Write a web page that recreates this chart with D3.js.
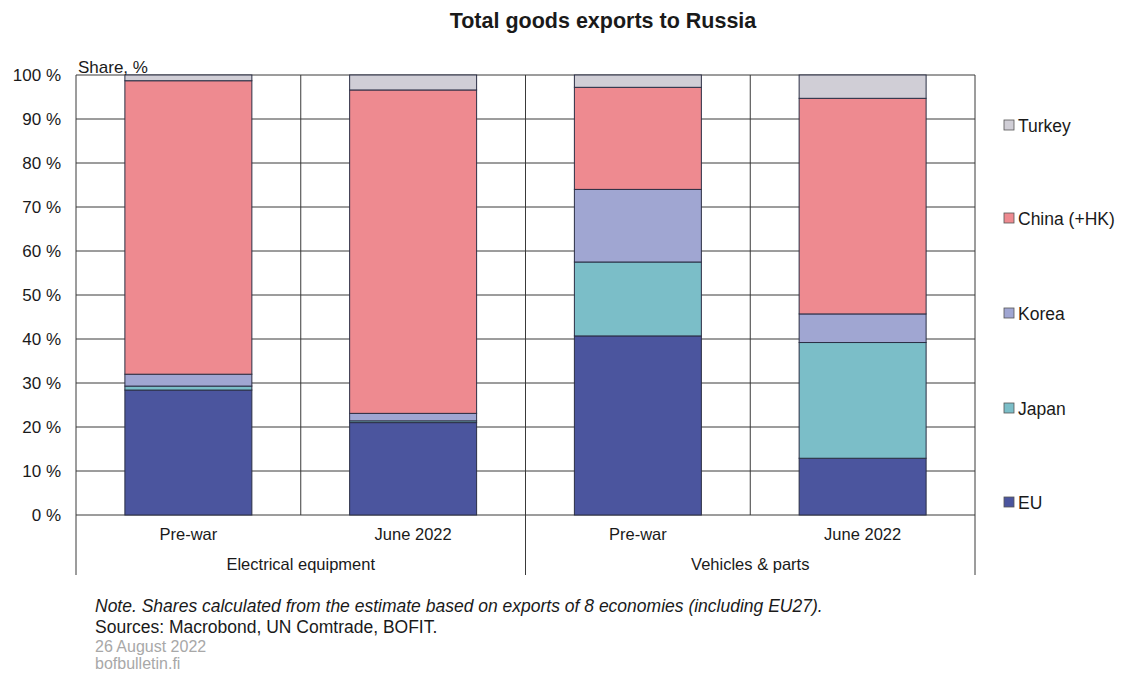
<!DOCTYPE html>
<html>
<head>
<meta charset="utf-8">
<script src="https://cdn.jsdelivr.net/npm/d3@7"></script>
<style>
  body { margin: 0; background: #fff; }
  text { font-family: "Liberation Sans", Arial, sans-serif; fill: #1a1a1a; }
</style>
</head>
<body>
<div id="chart"></div>
<script>
const groups = ["Electrical equipment", "Vehicles & parts"];
const periods = ["Pre-war", "June 2022"];
const seriesNames = ["EU", "Japan", "Korea", "China (+HK)", "Turkey"];
const seriesColors = ["#4b559e", "#7bbec8", "#a0a6d2", "#ee8a90", "#d0ced6"];
// shares by bar: elec pre-war, elec june, vehicles pre-war, vehicles june
const euValues = [28.4, 21.0, 40.7, 12.9];
const japanValues = [0.9, 0.4, 16.8, 26.3];
const koreaValues = [2.7, 1.7, 16.5, 6.5];
const chinaValues = [66.7, 73.5, 23.2, 49.0];
const turkeyValues = [1.3, 3.4, 2.8, 5.3];
const yTicks = [0, 10, 20, 30, 40, 50, 60, 70, 80, 90, 100];

const svgWidth = 1121, svgHeight = 673;
const margin = { top: 75, right: 146, bottom: 158, left: 76 };
const width = svgWidth - margin.left - margin.right;
const height = svgHeight - margin.top - margin.bottom;

const bars = [];
groups.forEach((g, gi) => periods.forEach((p, pi) => {
  const i = gi * 2 + pi;
  bars.push({ key: i, group: g, period: p,
    EU: euValues[i], Japan: japanValues[i], Korea: koreaValues[i],
    "China (+HK)": chinaValues[i], Turkey: turkeyValues[i] });
}));

const stacked = d3.stack().keys(seriesNames)(bars);

const svg = d3.select("#chart").append("svg")
  .attr("width", svgWidth)
  .attr("height", svgHeight);

svg.append("text")
  .attr("x", 603).attr("y", 28)
  .attr("text-anchor", "middle")
  .style("font-size", "21.5px").style("font-weight", "bold")
  .text("Total goods exports to Russia");

const g = svg.append("g").attr("transform", `translate(${margin.left},${margin.top})`);

const x = d3.scaleBand().domain(bars.map(d => d.key)).range([0, width]);
const xGroup = d3.scaleBand().domain(groups).range([0, width]);
const y = d3.scaleLinear().domain([0, 100]).range([height, 0]);
const barW = x.bandwidth() * 0.565;

const gridColor = "#3a3a3a";

// horizontal grid
g.append("g").selectAll("line").data(yTicks).enter().append("line")
  .attr("x1", 0).attr("x2", width)
  .attr("y1", d => y(d)).attr("y2", d => y(d))
  .attr("stroke", gridColor).attr("stroke-width", 1);

// vertical grid at category boundaries
const bounds = bars.map(d => x(d.key)).concat([width]);
g.append("g").selectAll("line").data(bounds).enter().append("line")
  .attr("x1", d => d).attr("x2", d => d)
  .attr("y1", 0).attr("y2", height)
  .attr("stroke", gridColor).attr("stroke-width", 1);

// group separators below axis
const groupBounds = groups.map(d => xGroup(d)).concat([width]);
g.append("g").selectAll("line").data(groupBounds).enter().append("line")
  .attr("x1", d => d).attr("x2", d => d)
  .attr("y1", height).attr("y2", height + 60)
  .attr("stroke", gridColor).attr("stroke-width", 1);

// bars
g.append("g").selectAll("g").data(stacked).enter().append("g")
  .attr("fill", (d, i) => seriesColors[i])
  .selectAll("rect").data(d => d).enter().append("rect")
  .attr("x", d => x(d.data.key) + (x.bandwidth() - barW) / 2)
  .attr("width", barW)
  .attr("y", d => y(d[1]))
  .attr("height", d => y(d[0]) - y(d[1]))
  .attr("stroke", "#2b2f45").attr("stroke-width", 1);

// y axis labels
const yAxis = d3.axisLeft(y).tickValues(yTicks).tickSize(0).tickPadding(15)
  .tickFormat(d => d + " %");
g.append("g").call(yAxis)
  .call(s => s.select(".domain").remove())
  .selectAll("text")
  .style("font-size", "17px").style("font-family", "Liberation Sans, Arial, sans-serif")
  .attr("fill", "#1a1a1a");

g.append("text")
  .attr("x", 2).attr("y", -2)
  .style("font-size", "17px")
  .text("Share, %");

// period labels
const xAxis = d3.axisBottom(x).tickSize(0).tickPadding(13).tickFormat(k => bars[k].period);
g.append("g").attr("transform", `translate(0,${height})`).call(xAxis)
  .call(s => s.select(".domain").remove())
  .selectAll("text")
  .style("font-size", "16.5px").style("font-family", "Liberation Sans, Arial, sans-serif")
  .attr("fill", "#1a1a1a");

// group labels
g.append("g").selectAll("text").data(groups).enter().append("text")
  .attr("x", d => xGroup(d) + xGroup.bandwidth() / 2)
  .attr("y", height + 55)
  .attr("text-anchor", "middle")
  .style("font-size", "16.5px")
  .text(d => d);

// legend
const legendY = [126, 219, 314, 409, 503];
const legend = svg.append("g").selectAll("g").data(seriesNames.slice().reverse()).enter().append("g")
  .attr("transform", (d, i) => `translate(1004,${legendY[i]})`);
legend.append("rect")
  .attr("x", 0).attr("y", -6).attr("width", 10).attr("height", 10)
  .attr("fill", d => seriesColors[seriesNames.indexOf(d)])
  .attr("stroke", "#555").attr("stroke-width", 0.8);
legend.append("text")
  .attr("x", 14).attr("y", 5.5)
  .style("font-size", "17.5px")
  .text(d => d);

// footer
svg.append("text").attr("x", 95).attr("y", 612)
  .style("font-size", "17.5px").style("font-style", "italic")
  .text("Note. Shares calculated from the estimate based on exports of 8 economies (including EU27).");
svg.append("text").attr("x", 95).attr("y", 633)
  .style("font-size", "17.5px")
  .text("Sources: Macrobond, UN Comtrade, BOFIT.");
svg.append("text").attr("x", 95).attr("y", 652)
  .style("font-size", "16px").style("fill", "#a8a8a8")
  .text("26 August 2022");
svg.append("text").attr("x", 95).attr("y", 669)
  .style("font-size", "16px").style("fill", "#a8a8a8")
  .text("bofbulletin.fi");
</script>
</body>
</html>
